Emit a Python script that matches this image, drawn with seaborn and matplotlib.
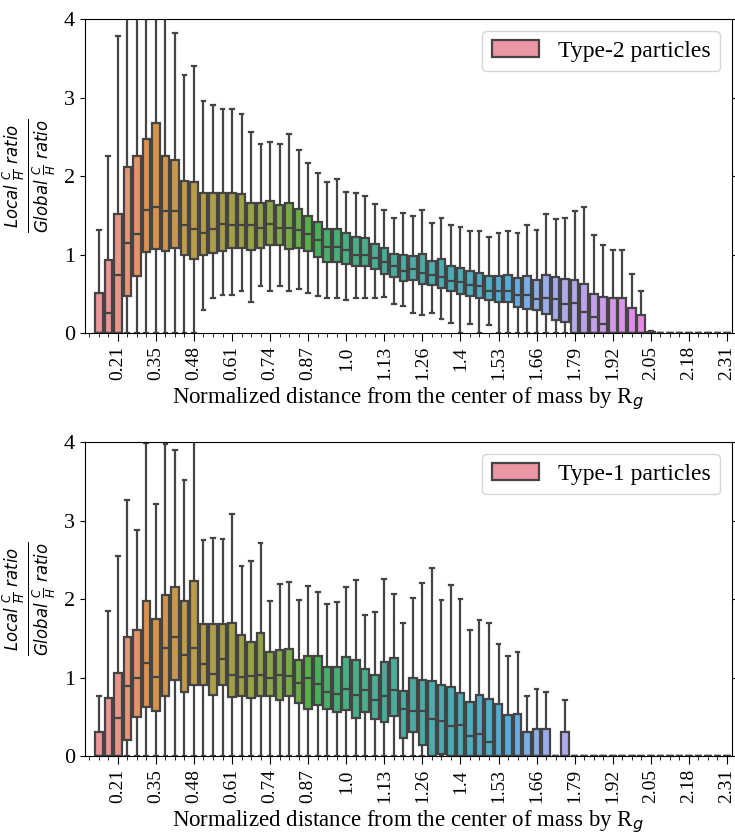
import matplotlib
matplotlib.use("Agg")
import matplotlib.pyplot as plt
from matplotlib.patches import Patch
import numpy as np
import pandas as pd
import seaborn as sns

plt.rcParams['font.family'] = ['Liberation Serif', 'DejaVu Serif']
plt.rcParams['mathtext.fontset'] = 'dejavusans'

# ---------------- data ----------------
n_bins = 68                      # bin 0 is empty
bin_ids = [str(i) for i in range(n_bins)]
tick_labels = ['0.21', '0.35', '0.48', '0.61', '0.74', '0.87', '1.0', '1.13',
               '1.26', '1.4', '1.53', '1.66', '1.79', '1.92', '2.05', '2.18', '2.31']

# Type-2 particles (bins 1..67)
t2_whi = [1.31, 2.25, 3.78, 4.5, 4.5, 4.5, 4.5, 4.05, 3.82, 3.29, 3.40, 2.95, 2.90, 2.85,
          2.86, 2.79, 2.56, 2.41, 2.43, 2.41, 2.54, 2.33, 2.17, 2.04, 1.92, 1.96, 1.80,
          1.79, 1.74, 1.64, 1.57, 1.47, 1.53, 1.49, 1.57, 1.40, 1.47, 1.37, 1.35, 1.30,
          1.30, 1.22, 1.27, 1.30, 1.28, 1.37, 1.31, 1.51, 1.45, 1.46, 1.56, 1.60, 1.25,
          1.12, 1.06, 1.06, 0.75, 0.53, 0.02, 0, 0, 0, 0, 0, 0, 0, 0]
t2_q3 = [0.51, 0.93, 1.52, 2.12, 2.26, 2.47, 2.68, 2.25, 2.20, 1.94, 1.92, 1.79, 1.78, 1.79,
         1.79, 1.77, 1.65, 1.65, 1.68, 1.63, 1.66, 1.58, 1.49, 1.42, 1.32, 1.33, 1.27,
         1.22, 1.21, 1.14, 1.08, 1.01, 1.00, 0.98, 1.01, 0.92, 0.94, 0.86, 0.83, 0.79,
         0.77, 0.72, 0.72, 0.74, 0.70, 0.72, 0.68, 0.74, 0.71, 0.69, 0.67, 0.63, 0.50,
         0.46, 0.44, 0.44, 0.32, 0.23, 0.01, 0, 0, 0, 0, 0, 0, 0, 0]
t2_med = [0.0, 0.25, 0.74, 1.15, 1.26, 1.57, 1.60, 1.56, 1.55, 1.37, 1.32, 1.28, 1.33, 1.39,
          1.37, 1.37, 1.37, 1.34, 1.39, 1.34, 1.34, 1.31, 1.26, 1.18, 1.10, 1.09, 1.06,
          1.00, 0.99, 0.95, 0.91, 0.85, 0.79, 0.81, 0.77, 0.74, 0.71, 0.66, 0.65, 0.61,
          0.60, 0.53, 0.53, 0.54, 0.48, 0.48, 0.43, 0.45, 0.43, 0.37, 0.38, 0.27, 0.20,
          0.12, 0, 0, 0, 0, 0, 0, 0, 0, 0, 0, 0, 0, 0]
t2_q1 = [0, 0, 0, 0.47, 0.73, 1.03, 1.07, 1.05, 1.08, 1.00, 0.94, 1.00, 1.02, 1.05,
         1.08, 1.08, 1.06, 1.08, 1.12, 1.12, 1.07, 1.08, 1.04, 0.97, 0.91, 0.91, 0.88,
         0.85, 0.85, 0.82, 0.75, 0.71, 0.66, 0.67, 0.63, 0.61, 0.57, 0.54, 0.50, 0.47,
         0.44, 0.42, 0.39, 0.39, 0.33, 0.30, 0.29, 0.24, 0.17, 0.14, 0, 0, 0,
         0, 0, 0, 0, 0, 0, 0, 0, 0, 0, 0, 0, 0, 0]
t2_wlo = [0, 0, 0, 0, 0, 0, 0, 0, 0, 0, 0, 0.29, 0.45, 0.49,
          0.49, 0.53, 0.40, 0.60, 0.54, 0.60, 0.54, 0.56, 0.51, 0.47, 0.45, 0.44, 0.42,
          0.45, 0.44, 0.45, 0.46, 0.37, 0.34, 0.26, 0.23, 0.25, 0.18, 0.13, 0, 0.11,
          0, 0.10, 0, 0, 0, 0, 0, 0, 0, 0, 0, 0, 0,
          0, 0, 0, 0, 0, 0, 0, 0, 0, 0, 0, 0, 0, 0]

# Type-1 particles (bins 1..67)
t1_whi = [0.77, 1.85, 2.55, 3.26, 2.88, 3.99, 3.21, 3.98, 3.90, 3.51, 4.5, 2.75, 2.78, 2.77,
          3.08, 2.42, 2.49, 2.71, 1.98, 2.19, 2.22, 1.99, 2.16, 2.09, 1.94, 1.96, 2.15,
          2.24, 1.80, 1.84, 2.25, 2.07, 1.70, 2.01, 2.20, 2.40, 1.99, 2.18, 2.00, 1.60,
          1.73, 1.69, 1.43, 1.28, 1.33, 0.77, 0.86, 0.82, 0, 0.72, 0, 0, 0,
          0, 0, 0, 0, 0, 0, 0, 0, 0, 0, 0, 0, 0, 0]
t1_q3 = [0.31, 0.74, 1.06, 1.52, 1.61, 1.98, 1.74, 2.05, 2.15, 1.97, 2.23, 1.68, 1.68, 1.68,
         1.70, 1.54, 1.45, 1.57, 1.32, 1.35, 1.36, 1.22, 1.27, 1.28, 1.14, 1.13, 1.26,
         1.22, 1.11, 1.03, 1.20, 1.25, 0.83, 0.99, 0.97, 0.96, 0.90, 0.88, 0.80, 0.69,
         0.78, 0.73, 0.66, 0.52, 0.54, 0.31, 0.34, 0.34, 0, 0.31, 0, 0, 0,
         0, 0, 0, 0, 0, 0, 0, 0, 0, 0, 0, 0, 0, 0]
t1_med = [0, 0, 0.49, 0.89, 1.00, 1.19, 1.01, 1.37, 1.52, 1.29, 1.37, 1.17, 1.05, 1.23,
          1.03, 1.01, 1.02, 1.03, 0.99, 1.03, 1.02, 0.93, 1.00, 0.92, 0.82, 0.79, 0.86,
          0.78, 0.84, 0.71, 0.77, 0.84, 0.60, 0.57, 0.57, 0.47, 0.45, 0.38, 0.40, 0.25,
          0.28, 0.18, 0, 0, 0, 0, 0, 0, 0, 0, 0, 0, 0,
          0, 0, 0, 0, 0, 0, 0, 0, 0, 0, 0, 0, 0, 0]
t1_q1 = [0, 0, 0, 0.21, 0.50, 0.63, 0.57, 0.76, 0.97, 0.82, 0.91, 0.90, 0.78, 0.90,
         0.75, 0.77, 0.74, 0.76, 0.76, 0.71, 0.76, 0.67, 0.60, 0.65, 0.60, 0.56, 0.59,
         0.48, 0.56, 0.47, 0.43, 0.51, 0.23, 0.30, 0.14, 0, 0.03, 0, 0, 0,
         0, 0, 0, 0, 0, 0, 0, 0, 0, 0, 0, 0, 0,
         0, 0, 0, 0, 0, 0, 0, 0, 0, 0, 0, 0, 0, 0]
t1_wlo = [0] * 67

legend_names = ['Type-2 particles', 'Type-1 particles']


def long_frame(wlo, q1, med, q3, whi):
    rows = []
    for k in range(len(q1)):
        cat = bin_ids[k + 1]
        for v in (wlo[k], q1[k], med[k], q3[k], whi[k]):
            rows.append((cat, v))
    return pd.DataFrame(rows, columns=['bin', 'ratio'])


frames = [long_frame(t2_wlo, t2_q1, t2_med, t2_q3, t2_whi),
          long_frame(t1_wlo, t1_q1, t1_med, t1_q3, t1_whi)]

pal = sns.husl_palette(n_bins, s=0.9, l=0.7)
pal_dict = dict(zip(bin_ids, pal))
line_col = '#444444'

fig = plt.figure(figsize=(7.35, 8.34), dpi=100)
ax_top = fig.add_axes([0.115, 0.6007, 0.8805, 0.3765])
ax_bot = fig.add_axes([0.115, 0.0935, 0.8805, 0.3765])

ylab = r'$\frac{Local\ \frac{C}{H}\ ratio}{Global\ \frac{C}{H}\ ratio}$'

for ax, df, name in zip([ax_top, ax_bot], frames, legend_names):
    sns.boxplot(data=df, x='bin', y='ratio', hue='bin', order=bin_ids,
                hue_order=bin_ids, palette=pal_dict, whis=(0, 100),
                showfliers=False, legend=False, linewidth=1.6,
                linecolor=line_col, ax=ax)
    ax.set_xlim(-0.5, n_bins - 0.5)
    ax.set_ylim(0, 4)
    ax.set_yticks([0, 1, 2, 3, 4])
    ax.set_xticks(range(3, n_bins, 4))
    ax.set_xticklabels(tick_labels, rotation=90, fontsize=14)
    ax.set_xticks(range(n_bins), minor=True)
    ax.tick_params(axis='x', which='major', length=6)
    ax.tick_params(axis='x', which='minor', length=3)
    ax.tick_params(axis='y', labelsize=16, right=True)
    ax.set_xlabel(r'Normalized distance from the center of mass by R$_g$', fontsize=16.5)
    ax.set_ylabel(ylab, fontsize=17)
    handle = Patch(facecolor=sns.desaturate(pal[0], 0.75), edgecolor=line_col,
                   linewidth=1.6)
    ax.legend(handles=[handle], labels=[name], loc='upper right', fontsize=17)

fig.savefig('out.png', dpi=100)
